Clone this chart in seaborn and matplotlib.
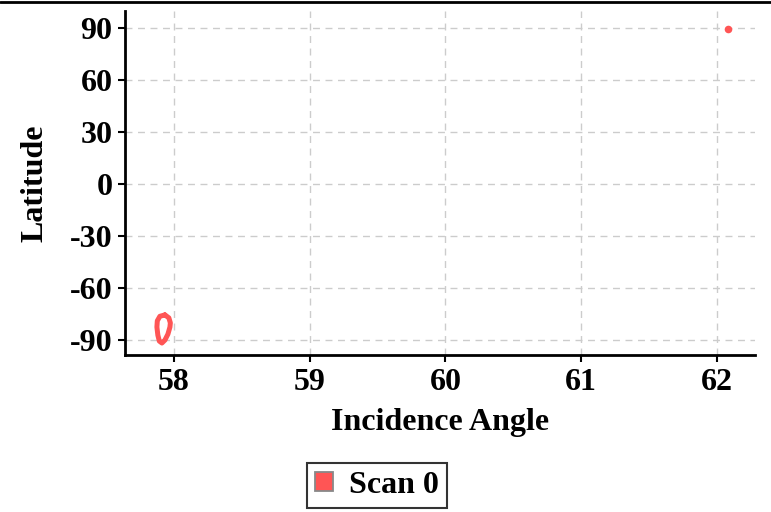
import matplotlib
matplotlib.use("Agg")
import matplotlib.pyplot as plt
from matplotlib.lines import Line2D
from matplotlib.patches import Patch
import pandas as pd
import seaborn as sns

# Scan 0 footprint: closed track near the south pole and a single sample near the north pole
loop_incidence = [57.934, 57.963, 57.974, 57.971, 57.956, 57.934, 57.912, 57.893,
                  57.882, 57.875, 57.878, 57.897, 57.934]
loop_latitude = [-75.5, -77.2, -80.1, -82.5, -86.6, -90.0, -91.7, -90.6,
                 -87.2, -82.5, -78.9, -76.3, -75.5]
point_incidence = [62.083]
point_latitude = [89.1]

series_name = "Scan 0"
x_ticks = [58, 59, 60, 61, 62]
y_ticks = [90, 60, 30, 0, -30, -60, -90]

color = "#ff5555"
fs = 23

sns.set_style("white")
plt.rcParams["font.family"] = ["Liberation Serif", "DejaVu Serif"]
plt.rcParams["font.weight"] = "bold"
plt.rcParams["text.color"] = "black"
plt.rcParams["axes.labelcolor"] = "black"

fig = plt.figure(figsize=(7.71, 5.12), dpi=100)
ax = fig.add_axes([125 / 771, 1 - 355 / 512, 630 / 771, 344 / 512])

loop_df = pd.DataFrame({"inc": loop_incidence, "lat": loop_latitude})
pt_df = pd.DataFrame({"inc": point_incidence, "lat": point_latitude})

sns.lineplot(data=loop_df, x="inc", y="lat", sort=False, estimator=None,
             color=color, linewidth=3.6, ax=ax, legend=False)
sns.scatterplot(data=pt_df, x="inc", y="lat", color=color, s=30,
                linewidth=0, ax=ax, legend=False)

ax.set_xlim(57.64, 62.28)
ax.set_ylim(-98.6, 99.6)
ax.set_xticks(x_ticks)
ax.set_yticks(y_ticks)
ax.set_xticklabels([str(t) for t in x_ticks])
ax.set_yticklabels([str(t) for t in y_ticks])

ax.grid(True, color="#cccccc", linestyle=(0, (5, 4)), linewidth=1.0)
ax.set_axisbelow(True)

for side in ("top", "right"):
    ax.spines[side].set_visible(False)
for side in ("left", "bottom"):
    ax.spines[side].set_color("black")
    ax.spines[side].set_linewidth(2.0)

ax.tick_params(axis="both", which="major", direction="out", length=5, width=1.5,
               color="black", labelsize=fs, labelcolor="black", pad=4,
               left=True, bottom=True)
for lbl in ax.get_xticklabels() + ax.get_yticklabels():
    lbl.set_fontweight("bold")

ax.set_xlabel("Incidence Angle", fontsize=fs, fontweight="bold", color="black", labelpad=8)
ax.set_ylabel("Latitude", fontsize=fs, fontweight="bold", color="black", labelpad=15)

handle = Patch(facecolor=color, edgecolor="#888888", linewidth=1.3)
leg = fig.legend([handle], [series_name], loc="lower center",
                 bbox_to_anchor=(377 / 771, 0.008), frameon=True, fancybox=False,
                 prop={"size": fs, "weight": "bold"}, handlelength=0.55,
                 handleheight=0.55, handletextpad=0.5, borderpad=0.25,
                 borderaxespad=0)
leg.get_frame().set_edgecolor("black")
leg.get_frame().set_linewidth(1.5)
for t in leg.get_texts():
    t.set_color("black")

# thin frame line along the top edge of the figure
fig.add_artist(Line2D([0, 1], [1 - 1.5 / 512, 1 - 1.5 / 512], transform=fig.transFigure,
                      color="black", linewidth=2.0))

fig.savefig("out.png", dpi=100)
